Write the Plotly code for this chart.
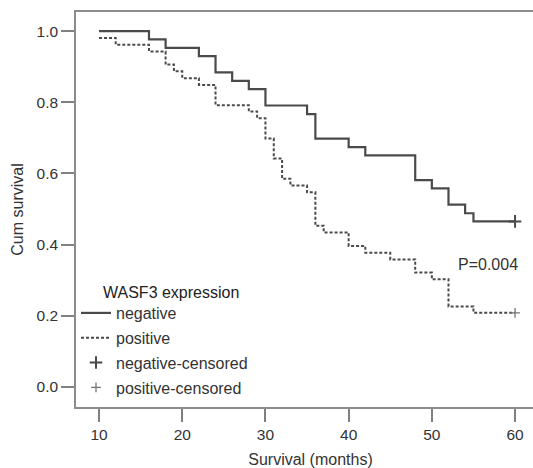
import plotly.graph_objects as go

# Kaplan-Meier step data
neg_months = [10, 16, 18, 22, 24, 26, 28, 30, 35, 36, 40, 42, 48, 50, 52, 54, 55, 60]
neg_surv = [1.0, 0.977, 0.953, 0.930, 0.884, 0.860, 0.837, 0.791, 0.767, 0.698,
            0.674, 0.651, 0.581, 0.558, 0.512, 0.488, 0.465, 0.465]

pos_months = [10, 12, 16, 18, 19, 20, 22, 24, 28, 29, 30, 31, 32, 33, 35, 36, 37,
              40, 42, 45, 48, 50, 52, 55, 60]
pos_surv = [0.981, 0.962, 0.943, 0.906, 0.887, 0.868, 0.849, 0.792, 0.774, 0.755,
            0.698, 0.642, 0.585, 0.566, 0.547, 0.453, 0.434, 0.396, 0.377, 0.358,
            0.321, 0.302, 0.226, 0.208, 0.208]

neg_censor_months = [60]
neg_censor_surv = [0.465]
pos_censor_months = [60]
pos_censor_surv = [0.208]

x_ticks = [10, 20, 30, 40, 50, 60]
y_ticks = [0.0, 0.2, 0.4, 0.6, 0.8, 1.0]
y_ticklabels = ["0.0", "0.2", "0.4", "0.6", "0.8", "1.0"]

line_col = "#4a4a4a"
font_fam = "Liberation Sans, Arial, sans-serif"

fig = go.Figure()
fig.add_trace(go.Scatter(x=neg_months, y=neg_surv, mode="lines", line_shape="hv",
                         line=dict(color=line_col, width=2.2), name="negative",
                         legendgroup="a"))
fig.add_trace(go.Scatter(x=pos_months, y=pos_surv, mode="lines", line_shape="hv",
                         line=dict(color=line_col, width=2, dash="3px,2px"), name="positive",
                         legendgroup="b"))
fig.add_trace(go.Scatter(x=neg_censor_months, y=neg_censor_surv, mode="markers",
                         marker=dict(symbol="cross-thin", size=9,
                                     line=dict(color=line_col, width=2)),
                         name="negative-censored", legendgroup="c"))
fig.add_trace(go.Scatter(x=pos_censor_months, y=pos_censor_surv, mode="markers",
                         marker=dict(symbol="cross-thin", size=7,
                                     line=dict(color="#777777", width=1.3)),
                         name="positive-censored", legendgroup="d"))

fig.add_annotation(x=56.7, y=0.343, text="P=0.004", showarrow=False,
                   font=dict(size=16, color="#333333", family=font_fam))
fig.add_annotation(x=0.0524, y=0.289, xref="paper", yref="paper", xanchor="left",
                   yanchor="middle", text="WASF3 expression", showarrow=False,
                   font=dict(size=16, color="#222222", family=font_fam))

# figure a bit wider than the window so the frame's right edge falls off-page,
# as in the reference
fig.update_layout(
    width=545, height=468,
    margin=dict(l=75.5, r=0, t=11.7, b=60.5),
    paper_bgcolor="white", plot_bgcolor="white",
    font=dict(family=font_fam, color="#333333", size=15),
    legend=dict(x=0.0, y=0.281, xanchor="left", yanchor="top",
                bgcolor="rgba(0,0,0,0)", tracegroupgap=1,
                font=dict(size=16, color="#333333")),
    showlegend=True,
)
fig.update_xaxes(range=[7.23, 63.6], tickvals=x_ticks, ticks="outside", ticklen=13,
                 tickwidth=1.5, tickcolor="#808080", showline=True, linecolor="#8c8c8c",
                 linewidth=1.5, mirror=True, showgrid=False, zeroline=False,
                 title=dict(text="Survival (months)", standoff=13,
                            font=dict(size=16, color="#333333")),
                 tickfont=dict(size=15.5, color="#333333"))
fig.update_yaxes(range=[-0.057, 1.054], tickvals=y_ticks, ticktext=y_ticklabels,
                 ticks="outside", ticklen=13, tickwidth=1.5, tickcolor="#808080",
                 showline=True, linecolor="#8c8c8c", linewidth=1.5, mirror=False,
                 showgrid=False, zeroline=False,
                 title=dict(text="Cum survival", standoff=9,
                            font=dict(size=16, color="#333333")),
                 tickfont=dict(size=15.5, color="#333333"))

fig.write_html("out.html", config={"displayModeBar": False},
               post_script="document.body.style.margin='0';"
                           "document.body.style.overflow='hidden';")
